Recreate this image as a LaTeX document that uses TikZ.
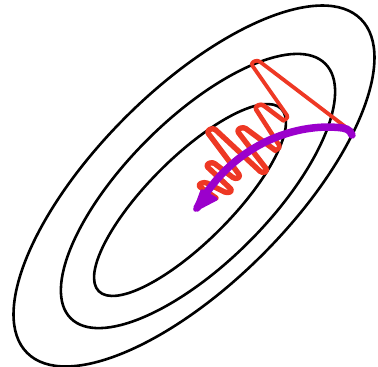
\documentclass[tikz,border=0pt]{standalone}
\usetikzlibrary{calc}
\definecolor{zigred}{RGB}{238,56,36}
\definecolor{pathpurple}{RGB}{155,0,204}
\tikzset{
  contour/.style={draw=black, line width=2.6pt},
  zigzag/.style={draw=zigred, line cap=round, line join=round, rounded corners=3pt},
  momentum/.style={draw=pathpurple, line width=7.5pt, line cap=round},
  momhead/.style={fill=pathpurple, draw=pathpurple, line width=3.5pt, line join=round}
}
\begin{document}
\begin{tikzpicture}[x=1pt, y=-1pt]
\useasboundingbox (0,0) rectangle (378,367);
% contour ellipses
\draw[contour, rotate around={45:(194,186)}] (194,186) ellipse [x radius=236, y radius=97];
\draw[contour, rotate around={45:(198,191)}] (198,191) ellipse [x radius=180, y radius=72];
\draw[contour, rotate around={45:(190,200)}] (190,200) ellipse [x radius=129, y radius=42];
% zigzag points (tips and bottoms doubled to give rounded loops)
\coordinate (S) at (347,128);
\coordinate (T1a) at (257.4,59.8);
\coordinate (T1b) at (250.6,63.2);
\coordinate (B1a) at (288.7,117.65);
\coordinate (B1b) at (283.3,120.35);
\coordinate (T2a) at (261.4,103.8);
\coordinate (T2b) at (254.6,107.2);
\coordinate (B2a) at (280.7,147.65);
\coordinate (B2b) at (275.3,150.35);
\coordinate (T3a) at (243.4,126.8);
\coordinate (T3b) at (236.6,130.2);
\coordinate (B3a) at (267.7,170.65);
\coordinate (B3b) at (262.3,173.35);
\coordinate (T4a) at (213.4,127.8);
\coordinate (T4b) at (206.6,131.2);
\coordinate (B4a) at (240.7,176.65);
\coordinate (B4b) at (235.3,179.35);
\coordinate (T5a) at (212.4,161.8);
\coordinate (T5b) at (205.6,165.2);
\coordinate (B5a) at (232.7,190.65);
\coordinate (B5b) at (227.3,193.35);
\coordinate (T6a) at (204.4,181.8);
\coordinate (T6b) at (197.6,185.2);
\coordinate (E) at (216,198);
\draw[zigzag, line width=3.8pt] (S) -- (T1a) -- (T1b) -- (B1a) -- (B1b);
\draw[zigzag, line width=4.6pt] (B1b) -- (T2a) -- (T2b) -- (B2a) -- (B2b);
\draw[zigzag, line width=5.4pt] (B2b) -- (T3a) -- (T3b) -- (B3a) -- (B3b)
  -- (T4a) -- (T4b) -- (B4a) -- (B4b) -- (T5a) -- (T5b) -- (B5a) -- (B5b)
  -- (T6a) -- (T6b) -- (E);
% momentum path
\coordinate (M0) at (352,135);
\coordinate (M1) at (338,127.5);
\coordinate (M2) at (197,208);
\coordinate (H1) at (195,210);
\coordinate (H2) at (202,191);
\coordinate (H3) at (216,199);
\draw[momentum] (M0) .. controls (350,129) and (345,128) .. (M1)
  .. controls (300,124) and (235,140) .. (M2);
\filldraw[momhead] (H1) -- (H2) -- (H3) -- cycle;
\end{tikzpicture}
\end{document}
